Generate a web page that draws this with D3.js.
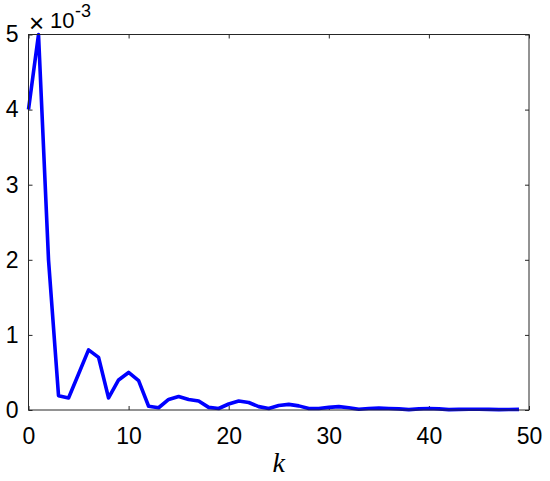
<!DOCTYPE html>
<html>
<head>
<meta charset="utf-8">
<script src="https://cdn.jsdelivr.net/npm/d3@7"></script>
<style>
  body { margin: 0; background: #fff; }
  text { font-family: "Liberation Sans", Arial, sans-serif; fill: #000; }
</style>
</head>
<body>
<script>
// values in units of 1e-3, k = 0..49
var values = [4.0, 5.0, 2.0, 0.19, 0.16, 0.48, 0.80, 0.70, 0.16, 0.40,
    0.50, 0.39, 0.05, 0.03, 0.14, 0.18, 0.14, 0.12, 0.035, 0.02,
    0.08, 0.12, 0.10, 0.045, 0.02, 0.06, 0.075, 0.055, 0.02, 0.02,
    0.035, 0.045, 0.03, 0.01, 0.02, 0.025, 0.02, 0.015, 0.005, 0.015,
    0.02, 0.015, 0.005, 0.008, 0.01, 0.01, 0.008, 0.005, 0.006, 0.008];
var xTicks = [0, 10, 20, 30, 40, 50];
var yTicks = [0, 1, 2, 3, 4, 5];

var width = 550;
var height = 481;
var plotLeft = 28.5, plotRight = 529, plotTop = 34.5, plotBottom = 410;

var svg = d3.select('body')
    .append('svg')
    .attr('width', width)
    .attr('height', height);

var x = d3.scaleLinear().domain([0, 50]).range([plotLeft, plotRight]);
var y = d3.scaleLinear().domain([0, 5]).range([plotBottom, plotTop]);

var axisColor = '#262626';

// ticks and box
svg.append('g')
    .attr('transform', 'translate(0,' + plotBottom + ')')
    .call(d3.axisBottom(x).tickValues(xTicks).tickSize(-4).tickPadding(18).tickFormat(d3.format('d')))
    .call(g => g.select('.domain').remove())
    .call(g => g.selectAll('line').attr('stroke', axisColor))
    .call(g => g.selectAll('text').attr('font-size', 23).attr('fill', '#000'));

svg.append('g')
    .attr('transform', 'translate(0,' + plotTop + ')')
    .call(d3.axisTop(x).tickValues(xTicks).tickSize(-4).tickFormat(''))
    .call(g => g.select('.domain').remove())
    .call(g => g.selectAll('line').attr('stroke', axisColor));

svg.append('g')
    .attr('transform', 'translate(' + plotLeft + ',0)')
    .call(d3.axisLeft(y).tickValues(yTicks).tickSize(-4).tickPadding(10).tickFormat(d3.format('d')))
    .call(g => g.select('.domain').remove())
    .call(g => g.selectAll('line').attr('stroke', axisColor))
    .call(g => g.selectAll('text').attr('font-size', 23).attr('fill', '#000'));

svg.append('g')
    .attr('transform', 'translate(' + plotRight + ',0)')
    .call(d3.axisRight(y).tickValues(yTicks).tickSize(-4).tickFormat(''))
    .call(g => g.select('.domain').remove())
    .call(g => g.selectAll('line').attr('stroke', axisColor));

// data line
var line = d3.line()
    .x((d, i) => x(i))
    .y(d => y(d));

svg.append('path')
    .datum(values)
    .attr('d', line)
    .attr('fill', 'none')
    .attr('stroke', '#0000ff')
    .attr('stroke-width', 3.6)
    .attr('stroke-linejoin', 'round');

svg.append('rect')
    .attr('x', plotLeft)
    .attr('y', plotTop)
    .attr('width', plotRight - plotLeft)
    .attr('height', plotBottom - plotTop)
    .attr('fill', 'none')
    .attr('stroke', axisColor)
    .attr('stroke-width', 1);

// exponent label
var expo = svg.append('text')
    .attr('font-size', 22);
expo.append('tspan').attr('x', 29).attr('y', 32).attr('font-size', 26).text('\u00d7');
expo.append('tspan').attr('x', 50).attr('y', 28).text('10');
expo.append('tspan').attr('x', 75).attr('y', 17).attr('font-size', 18).text('-3');

// x label
svg.append('text')
    .attr('x', x(25))
    .attr('y', 472)
    .attr('text-anchor', 'middle')
    .attr('font-size', 28)
    .attr('font-style', 'italic')
    .style('font-family', '"Liberation Serif", "Times New Roman", serif')
    .text('k');
</script>
</body>
</html>
